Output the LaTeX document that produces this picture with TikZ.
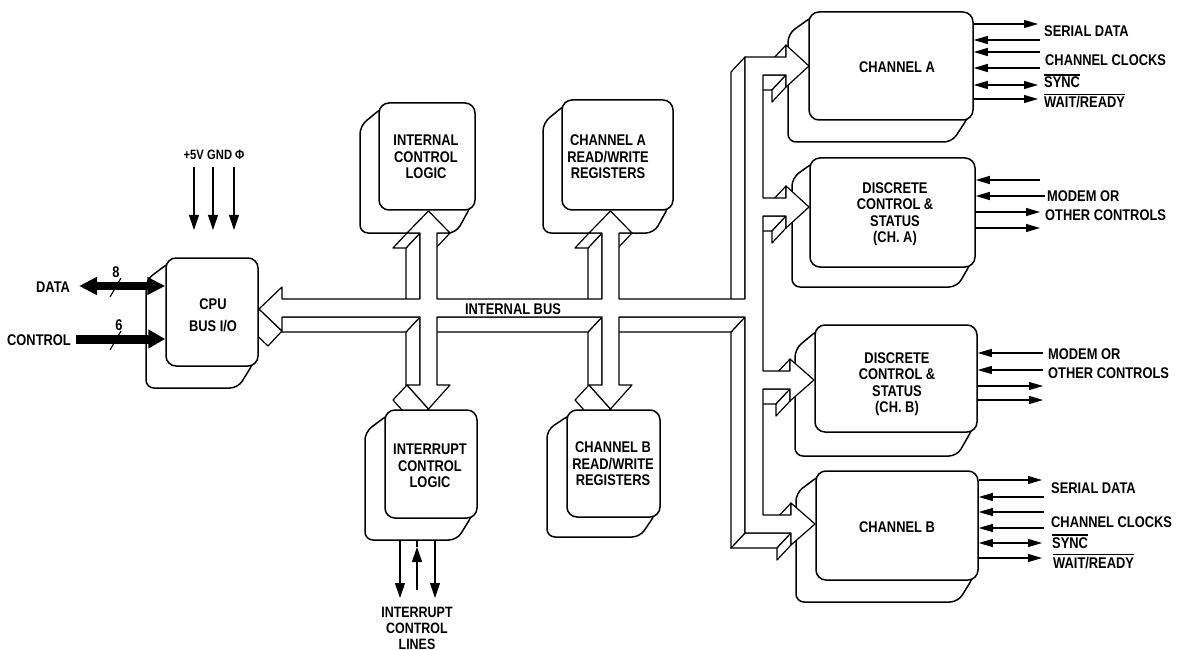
\documentclass[tikz,border=0pt]{standalone}
\usepackage{fontspec}
\setmainfont{Liberation Sans}[FakeStretch=0.83]
\usetikzlibrary{arrows.meta}
% back card: L T R B dx dy
\newcommand{\cback}[6]{%
  \draw[cardback] (#1+4,#2+4) -- (#1-#5,#2+#6) -- (#1-#5,#4+#6) -- (#3-#5,#4+#6) -- (#3-4,#4-4) -- (#3-4,#2+4) -- cycle;}
% front card: name L T R B
\newcommand{\cfront}[5]{%
  \node[cardfront, minimum width={#4-#2}, minimum height={#5-#3}] (#1) at ({(#2+#4)/2},{(#3+#5)/2}) {};}
% visible side face of the bus: edge (x1,y1)->(x2,y2), depth (-14,15)
\newcommand{\bface}[4]{\draw[busface] (#1,#2) -- (#3,#4) -- (#3-14,#4+15) -- (#1-14,#2+15) -- cycle;}
% signal line: node, y, x end, arrows, coordinate name
\newcommand{\sigline}[5]{%
  \coordinate (#5) at (#3,#2);
  \draw[sigl,#4] (#1.east |- #5) -- (#5);}
\newcommand{\ovl}[1]{\vbox{\hrule height 1.2pt\kern 1.6pt\hbox{#1}}}
\begin{document}
\begin{tikzpicture}[x=1pt,y=-1pt,
  cardfront/.style={draw, fill=white, rounded corners=10pt, line width=1.5pt, inner sep=0pt},
  cardback/.style={draw, fill=white, rounded corners=8pt, line width=1.5pt, line join=round},
  busface/.style={draw, fill=white, line width=1.2pt, line join=round},
  lbl/.style={font=\bfseries\fontsize{15.5}{16.5}\selectfont, inner sep=0pt, align=center},
  slbl/.style={font=\bfseries\fontsize{13.5}{15}\selectfont, inner sep=0pt},
  sigl/.style={line width=1.1pt},
  bigtip/.style={-{Triangle[length=15pt,width=10pt]}},
  >={Triangle[length=14pt,width=8pt]}]
\useasboundingbox (0,0) rectangle (1179,650);

% ---------- back cards ----------
\cback{166}{258}{258}{366}{20}{22}
\cback{379}{103}{475}{210}{19}{23}
\cback{562}{100}{673}{210}{19}{23}
\cback{385}{410}{477}{518}{20}{22}
\cback{567}{410}{660}{517}{20}{20}
\cback{809}{12}{973}{120}{21}{22}
\cback{810}{158}{975}{267}{18}{20}
\cback{815}{325}{977}{432}{20}{24}
\cback{816}{471}{978}{580}{20}{22}

% ---------- internal bus: visible side faces ----------
\bface{420}{299}{420}{233}
\bface{602}{299}{602}{233}
\bface{745}{299}{745}{57}
\bface{786}{75}{763}{75}
\bface{786}{216}{763}{216}
\bface{790}{389}{763}{389}
\bface{791}{533}{745}{533}
\bface{745}{533}{745}{317}
\bface{745}{317}{619}{317}
\bface{602}{385}{602}{317}
\bface{602}{317}{437}{317}
\bface{420}{385}{420}{317}
\bface{420}{317}{282}{317}
% arrow-head faces
\bface{420}{233}{407}{233}
\bface{450}{233}{437}{233}
\bface{602}{233}{589}{233}
\bface{632}{233}{619}{233}
\bface{786}{57}{786}{45}
\bface{786}{87}{786}{75}
\bface{786}{198}{786}{186}
\bface{786}{228}{786}{216}
\bface{790}{371}{790}{359}
\bface{790}{401}{790}{389}
\bface{791}{515}{791}{503}
\bface{791}{545}{791}{533}
\bface{610.5}{409}{589}{385}
\bface{428.5}{409}{407}{385}
\bface{282}{331}{259}{309}

% ---------- internal bus: front face ----------
\draw[busface] (259,309) -- (282,287) -- (282,299) -- (420,299) -- (420,233) -- (407,233) -- (428.5,211) -- (450,233) -- (437,233) -- (437,299) -- (602,299) -- (602,233) -- (589,233) -- (610.5,211) -- (632,233) -- (619,233) -- (619,299) -- (745,299) -- (745,57) -- (786,57) -- (786,45) -- (809,66) -- (786,87) -- (786,75) -- (763,75) -- (763,198) -- (786,198) -- (786,186) -- (809,207) -- (786,228) -- (786,216) -- (763,216) -- (763,371) -- (790,371) -- (790,359) -- (814,380) -- (790,401) -- (790,389) -- (763,389) -- (763,515) -- (791,515) -- (791,503) -- (815,524) -- (791,545) -- (791,533) -- (745,533) -- (745,317) -- (619,317) -- (619,385) -- (632,385) -- (610.5,409) -- (589,385) -- (602,385) -- (602,317) -- (437,317) -- (437,385) -- (450,385) -- (428.5,409) -- (407,385) -- (420,385) -- (420,317) -- (282,317) -- (282,331) -- cycle;
\node[lbl] (tbus) at (513,309) {INTERNAL BUS};

% ---------- front cards ----------
\cfront{cpu}{166}{258}{258}{366}
\cfront{icl}{379}{103}{475}{210}
\cfront{car}{562}{100}{673}{210}
\cfront{intr}{385}{410}{477}{518}
\cfront{cbr}{567}{410}{660}{517}
\cfront{chA}{809}{12}{973}{120}
\cfront{dA}{810}{158}{975}{267}
\cfront{dB}{815}{325}{977}{432}
\cfront{chB}{816}{471}{978}{580}

% ---------- card texts ----------
\node[lbl] (tcpu) at (213,315) {CPU\\[5.5pt]BUS I/O};
\node[lbl] (ticl) at (426,157) {INTERNAL\\CONTROL\\LOGIC};
\node[lbl] (tcar) at (608,157) {CHANNEL A\\READ/WRITE\\REGISTERS};
\node[lbl] (tint) at (430,466) {INTERRUPT\\CONTROL\\LOGIC};
\node[lbl] (tcbr) at (613,464) {CHANNEL B\\READ/WRITE\\REGISTERS};
\node[lbl] (tcha) at (897,67) {CHANNEL A};
\node[lbl] (tda) at (895,214) {DISCRETE\\CONTROL \&\\STATUS\\(CH. A)};
\node[lbl] (tdb) at (897,384) {DISCRETE\\CONTROL \&\\STATUS\\(CH. B)};
\node[lbl] (tchb) at (897,527) {CHANNEL B};

% ---------- CPU side ----------
\coordinate (dataL) at (79,286);
\coordinate (ctlL) at (76,339);
\draw[line width=8pt,{Triangle[length=18pt,width=17pt]}-{Triangle[length=18pt,width=17pt]}] (dataL) -- (cpu.west |- dataL);
\draw[line width=9pt,-{Triangle[length=17pt,width=18pt]}] (ctlL) -- (cpu.west |- ctlL);
\draw[sigl] (110,297) -- (121,278);
\draw[sigl] (110,350) -- (121,331);
\node[lbl, anchor=base west] (ldata) at (36,292) {DATA};
\node[lbl, anchor=base west] (lctl) at (7,345) {CONTROL};
\node[lbl, anchor=base] (l8) at (116,277) {8};
\node[lbl, anchor=base] (l6) at (119,330) {6};

\node[slbl, anchor=base east] (l5v) at (204,160) {+5V};
\node[slbl, anchor=base west] (lgnd) at (207,160) {GND};
\node[slbl, anchor=base west] (lphi) at (235,160) {Φ};
\coordinate (p1t) at (194,167); \coordinate (p1b) at (194,230);
\coordinate (p2t) at (213,167); \coordinate (p2b) at (213,230);
\coordinate (p3t) at (234,167); \coordinate (p3b) at (234,230);
\draw[sigl,bigtip] (p1t) -- (p1b);
\draw[sigl,bigtip] (p2t) -- (p2b);
\draw[sigl,bigtip] (p3t) -- (p3b);

% ---------- interrupt lines ----------
\coordinate (i1t) at (400,540); \coordinate (i1b) at (400,598);
\coordinate (i2t) at (417,540); \coordinate (i2m) at (417,547); \coordinate (i2b) at (417,590);
\coordinate (i3t) at (435,540); \coordinate (i3b) at (435,598);
\draw[sigl,bigtip] (i1t) -- (i1b);
\draw[sigl,bigtip] (i2b) -- (i2m);
\draw[sigl] (i2m) -- (i2t);
\draw[sigl,bigtip] (i3t) -- (i3b);
\node[lbl, font=\bfseries\fontsize{15}{16}\selectfont] (lint) at (417,628) {INTERRUPT\\CONTROL\\LINES};

% ---------- channel A signals ----------
\sigline{chA}{24}{1038}{->}{a1}
\sigline{chA}{40}{1040}{<-}{a2}
\sigline{chA}{52}{1040}{<-}{a3}
\sigline{chA}{68}{1040}{<-}{a4}
\sigline{chA}{85}{1038}{<->}{a5}
\sigline{chA}{99}{1038}{->}{a6}
\node[lbl, anchor=base west] (sa1) at (1044,37) {SERIAL DATA};
\node[lbl, anchor=base west] (sa2) at (1045,66) {CHANNEL CLOCKS};
\node[lbl, anchor=base west] (sa3) at (1044,88) {\ovl{SYNC}};
\node[lbl, anchor=base west] (sa4) at (1044,108) {\ovl{WAIT/READY}};

% ---------- discrete A ----------
\sigline{dA}{180}{1040}{<-}{b1}
\sigline{dA}{196}{1045}{<-}{b2}
\sigline{dA}{212}{1040}{->}{b3}
\sigline{dA}{228}{1040}{->}{b4}
\node[lbl, anchor=base west] (sb1) at (1047,202) {MODEM OR};
\node[lbl, anchor=base west] (sb2) at (1045,220) {OTHER CONTROLS};

% ---------- discrete B ----------
\sigline{dB}{353}{1043}{<-}{c1}
\sigline{dB}{370}{1043}{<-}{c2}
\sigline{dB}{386}{1043}{->}{c3}
\sigline{dB}{400}{1043}{->}{c4}
\node[lbl, anchor=base west] (sc1) at (1048,359) {MODEM OR};
\node[lbl, anchor=base west] (sc2) at (1048,378) {OTHER CONTROLS};

% ---------- channel B signals ----------
\sigline{chB}{480}{1042}{->}{d1}
\sigline{chB}{497}{1044}{<-}{d2}
\sigline{chB}{512}{1044}{<-}{d3}
\sigline{chB}{528}{1044}{<-}{d4}
\sigline{chB}{543}{1042}{<->}{d5}
\sigline{chB}{558}{1042}{->}{d6}
\node[lbl, anchor=base west] (sd1) at (1051,493) {SERIAL DATA};
\node[lbl, anchor=base west] (sd2) at (1051,527) {CHANNEL CLOCKS};
\node[lbl, anchor=base west] (sd3) at (1052,548) {\ovl{SYNC}};
\node[lbl, anchor=base west] (sd4) at (1053,568) {\ovl{WAIT/READY}};
\end{tikzpicture}
\end{document}
